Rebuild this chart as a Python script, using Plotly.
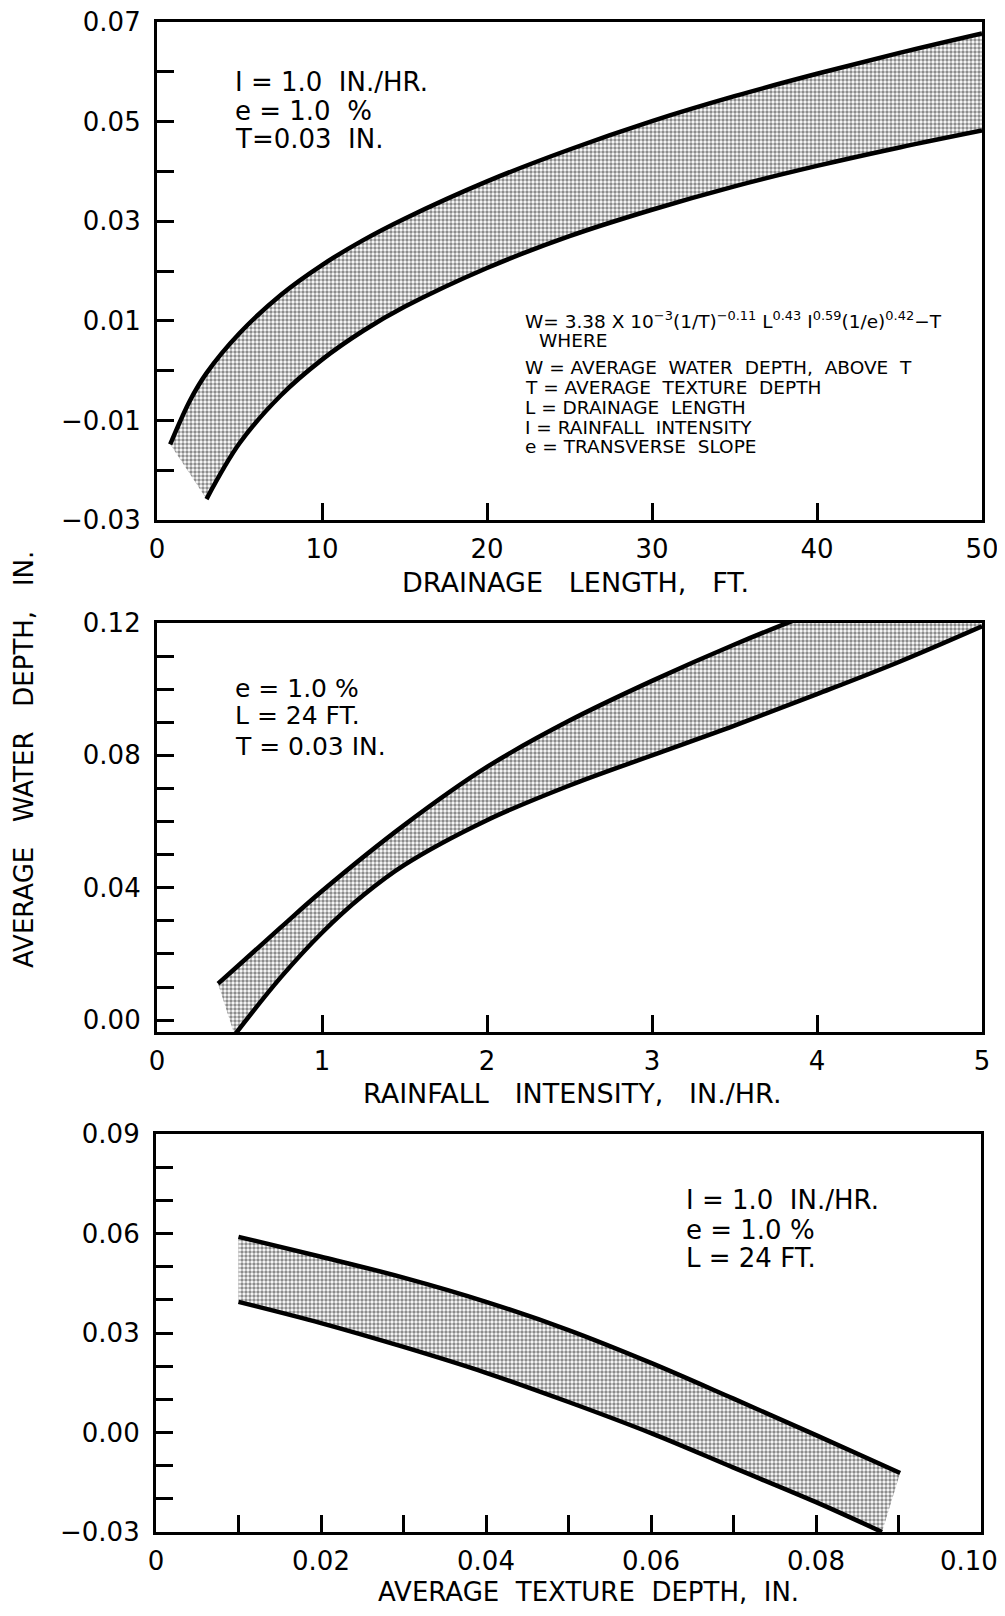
import plotly.graph_objects as go

# ---------------- data ----------------
# Panel 1: drainage length L (ft) vs average water depth W (in.)
L_upper = [0.8, 2, 3, 5, 7.5, 10, 12.5, 15, 20, 25, 30, 35, 40, 45, 50]
W_L_upper = [-0.0148, -0.0060, -0.0005, 0.0075, 0.0152, 0.0212, 0.0262, 0.0305, 0.0380,
             0.0444, 0.0501, 0.0551, 0.0596, 0.0638, 0.0677]
L_lower = [3, 5, 7.5, 10, 12.5, 15, 20, 25, 30, 35, 40, 45, 50]
W_L_lower = [-0.0258, -0.0146, -0.0050, 0.0022, 0.0080, 0.0128, 0.0206, 0.0270,
             0.0323, 0.0370, 0.0411, 0.0448, 0.0482]

# Panel 2: rainfall intensity I (in./hr) vs W
I_upper = [0.37, 0.5, 0.75, 1.0, 1.5, 2.0, 2.5, 3.0, 3.5, 4.0, 4.5, 5.0]
W_I_upper = [0.0110, 0.0168, 0.0280, 0.0390, 0.0590, 0.0765, 0.0905, 0.1025,
             0.1135, 0.1235, 0.1325, 0.1410]
I_lower = [0.47, 0.75, 1.0, 1.25, 1.5, 2.0, 2.5, 3.0, 3.5, 4.0, 4.5, 5.0]
W_I_lower = [-0.0045, 0.0129, 0.0264, 0.0377, 0.0469, 0.0604, 0.0709, 0.0800, 0.0890,
             0.0985, 0.1083, 0.1190]

# Panel 3: average texture depth T (in.) vs W
T_upper = [0.010, 0.020, 0.030, 0.040, 0.050, 0.060, 0.070, 0.080, 0.0902]
W_T_upper = [0.0590, 0.0530, 0.0467, 0.0394, 0.0309, 0.0210, 0.0102, -0.0008, -0.0122]
T_lower = [0.010, 0.020, 0.030, 0.040, 0.050, 0.060, 0.070, 0.080, 0.088]
W_T_lower = [0.0394, 0.0330, 0.0258, 0.0180, 0.0092, -0.0002, -0.0106, -0.0210, -0.0300]

# Tick values / labels
p1_xticks = [0, 10, 20, 30, 40, 50]
p1_xlabels = ["0", "10", "20", "30", "40", "50"]
p1_yticks = [-0.03, -0.02, -0.01, 0.0, 0.01, 0.02, 0.03, 0.04, 0.05, 0.06, 0.07]
p1_ylabels = ["−0.03", "", "−0.01", "", "0.01", "", "0.03", "", "0.05", "", "0.07"]

p2_xticks = [0, 1, 2, 3, 4, 5]
p2_xlabels = ["0", "1", "2", "3", "4", "5"]
p2_yticks = [0.00, 0.01, 0.02, 0.03, 0.04, 0.05, 0.06, 0.07, 0.08, 0.09, 0.10, 0.11, 0.12]
p2_ylabels = ["0.00", "", "", "", "0.04", "", "", "", "0.08", "", "", "", "0.12"]

p3_xticks = [0, 0.01, 0.02, 0.03, 0.04, 0.05, 0.06, 0.07, 0.08, 0.09, 0.10]
p3_xlabels = ["0", "", "0.02", "", "0.04", "", "0.06", "", "0.08", "", ""]
p3_last_label = "0.10"   # drawn slightly left of its tick, as in the original
p3_yticks = [-0.03, -0.02, -0.01, 0.00, 0.01, 0.02, 0.03, 0.04, 0.05, 0.06, 0.07, 0.08, 0.09]
p3_ylabels = ["−0.03", "", "", "0.00", "", "", "0.03", "", "", "0.06", "", "", "0.09"]

# ---------------- figure ----------------
PAGE_OFF = 8            # default body margin of the html page
W, H = 1005 - PAGE_OFF, 1616 - PAGE_OFF
FONT = "DejaVu Sans"
SMOOTH = 1.0
fig = go.Figure()

pattern = dict(shape=".", size=4, solidity=0.58, fgcolor="#1a1a1a", bgcolor="white")


def add_band(xl, yl, xu, yu, xa, ya):
    # invisible lower boundary, upper boundary filled to it
    fig.add_trace(go.Scatter(x=xl, y=yl, mode="lines", xaxis=xa, yaxis=ya,
                             line=dict(width=0, shape="spline", smoothing=SMOOTH),
                             hoverinfo="skip", showlegend=False))
    fig.add_trace(go.Scatter(x=xu, y=yu, mode="lines", xaxis=xa, yaxis=ya,
                             line=dict(width=0, shape="spline", smoothing=SMOOTH),
                             fill="tonexty", fillcolor="white", fillpattern=pattern,
                             hoverinfo="skip", showlegend=False))
    for xs, ys in ((xl, yl), (xu, yu)):
        fig.add_trace(go.Scatter(x=xs, y=ys, mode="lines", xaxis=xa, yaxis=ya,
                                 line=dict(width=4.5, color="black", shape="spline",
                                           smoothing=SMOOTH),
                                 hoverinfo="skip", showlegend=False))


add_band(L_lower, W_L_lower, L_upper, W_L_upper, "x", "y")
add_band(I_lower, W_I_lower, I_upper, W_I_upper, "x2", "y2")
add_band(T_lower, W_T_lower, T_upper, W_T_upper, "x3", "y3")


def py(px):
    return 1 - (px - PAGE_OFF) / H


def pxx(px):
    return (px - PAGE_OFF) / W


axis_common = dict(showline=True, linewidth=3.2, linecolor="black", mirror=True,
                   ticks="inside", ticklen=17, tickwidth=2.6, tickcolor="black",
                   showgrid=False, zeroline=False, fixedrange=True, automargin=False,
                   ticklabeloverflow="allow",
                   tickfont=dict(family=FONT, size=26, color="black"))

fig.update_layout(
    width=W, height=H, margin=dict(l=0, r=0, t=0, b=0, autoexpand=False),
    paper_bgcolor="white", plot_bgcolor="white", showlegend=False,
    xaxis=dict(axis_common, domain=[pxx(157), pxx(982)], range=[0, 50],
               tickvals=p1_xticks, ticktext=p1_xlabels, anchor="y",
               ticklabelstandoff=4),
    yaxis=dict(axis_common, domain=[py(520), py(22)], range=[-0.03, 0.07],
               tickvals=p1_yticks, ticktext=p1_ylabels, anchor="x",
               ticklabelstandoff=8),
    xaxis2=dict(axis_common, domain=[pxx(157), pxx(982)], range=[0, 5],
                tickvals=p2_xticks, ticktext=p2_xlabels, anchor="y2",
                ticklabelstandoff=4),
    yaxis2=dict(axis_common, domain=[py(1032), py(623)], range=[-0.0036, 0.12],
                tickvals=p2_yticks, ticktext=p2_ylabels, anchor="x2",
                ticklabelstandoff=8),
    xaxis3=dict(axis_common, domain=[pxx(156), pxx(981)], range=[0, 0.10],
                tickvals=p3_xticks, ticktext=p3_xlabels, anchor="y3",
                ticklabelstandoff=4),
    yaxis3=dict(axis_common, domain=[py(1532), py(1134)], range=[-0.03, 0.09],
                tickvals=p3_yticks, ticktext=p3_ylabels, anchor="x3",
                ticklabelstandoff=8),
)

ann = []


def txt(text, x, y, xref, yref, size=26, xanchor="left", yanchor="middle", angle=0):
    ann.append(dict(text=text, x=x, y=y, xref=xref, yref=yref, showarrow=False,
                    xanchor=xanchor, yanchor=yanchor, textangle=angle,
                    font=dict(family=FONT, size=size, color="black")))


NB = "\u00a0"
S2 = NB * 2
S3 = NB * 3
# Panel 1 parameters
for t, yy in (("I = 1.0" + S2 + "IN./HR.", 0.880), ("e = 1.0" + S2 + "%", 0.821),
              ("T=0.03" + S2 + "IN.", 0.765)):
    txt(t, 0.092, yy, "x domain", "y domain")

# Equation block
eq_lines = [
    ("W= 3.38 X 10<sup>−3</sup>(1/T)<sup>−0.11</sup> L<sup>0.43</sup> I<sup>0.59</sup>"
     "(1/e)<sup>0.42</sup>−T", 0.444, 0.4016),
    ("WHERE", 0.461, 0.3614),
    ("W = AVERAGE" + S2 + "WATER" + S2 + "DEPTH," + S2 + "ABOVE" + S2 + "T", 0.444, 0.3072),
    ("T = AVERAGE" + S2 + "TEXTURE" + S2 + "DEPTH", 0.444, 0.2651),
    ("L = DRAINAGE" + S2 + "LENGTH", 0.444, 0.2249),
    ("I = RAINFALL" + S2 + "INTENSITY", 0.444, 0.1867),
    ("e = TRANSVERSE" + S2 + "SLOPE", 0.444, 0.1466),
]
for t, xx, yy in eq_lines:
    txt(t, xx, yy, "x domain", "y domain", size=18.5)

# Panel 2 parameters
for t, yy in (("e = 1.0" + NB + "%", 0.841), ("L = 24" + NB + "FT.", 0.775),
              ("T = 0.03" + NB + "IN.", 0.697)):
    txt(t, 0.092, yy, "x2 domain", "y2 domain", size=25)

# Panel 3 parameters
for t, yy in (("I = 1.0" + S2 + "IN./HR.", 0.834), ("e = 1.0" + NB + "%", 0.759),
              ("L = 24" + NB + "FT.", 0.688)):
    txt(t, 0.640, yy, "x3 domain", "y3 domain", size=26)

# last x tick label of panel 3 (sits left of its tick in the original)
txt(p3_last_label, pxx(969), py(1561), "paper", "paper", size=26, xanchor="center")

# Axis titles
txt("DRAINAGE" + S3 + "LENGTH," + S3 + "FT.", pxx(575), py(582), "paper", "paper",
    size=27, xanchor="center")
txt("RAINFALL" + S3 + "INTENSITY," + S3 + "IN./HR.", pxx(572), py(1093), "paper",
    "paper", size=27, xanchor="center")
txt("AVERAGE" + S2 + "TEXTURE" + S2 + "DEPTH," + S2 + "IN.", pxx(588), py(1592),
    "paper", "paper", size=26, xanchor="center")
txt("AVERAGE" + S3 + "WATER" + S3 + "DEPTH," + S3 + "IN.", pxx(24), py(760),
    "paper", "paper", size=26, xanchor="center", angle=-90)

fig.update_layout(annotations=ann)
fig.write_html("out.html")
